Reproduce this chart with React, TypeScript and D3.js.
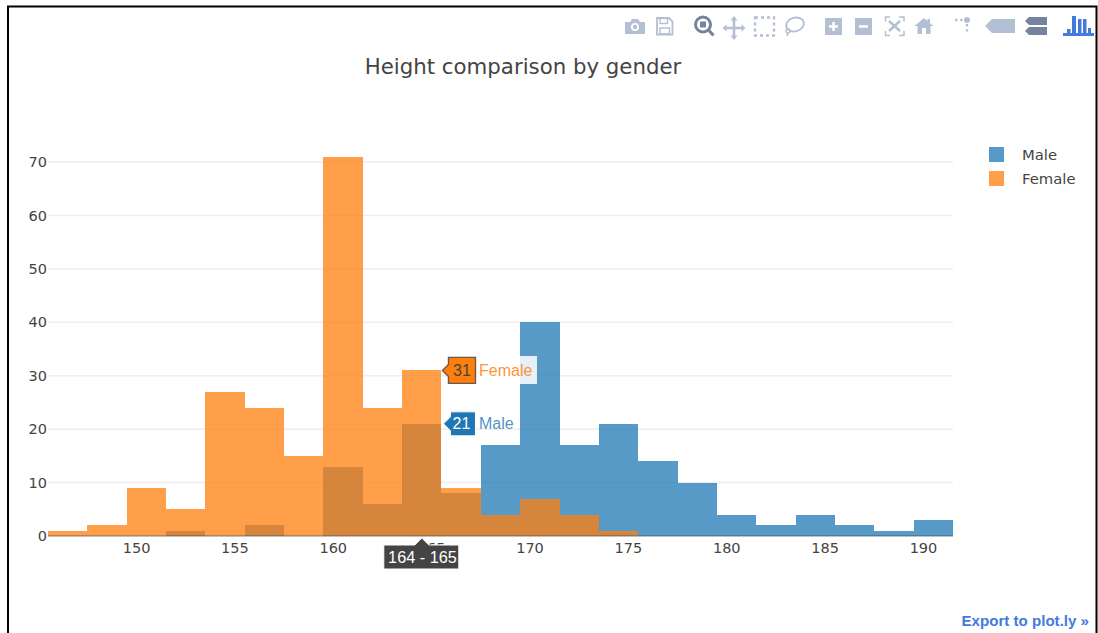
import React from 'react'
import * as d3 from 'd3'

// histogram bins are 2 wide, the first one starts at 145.5
const binStarts = [145.5, 147.5, 149.5, 151.5, 153.5, 155.5, 157.5, 159.5, 161.5, 163.5, 165.5, 167.5, 169.5, 171.5, 173.5, 175.5, 177.5, 179.5, 181.5, 183.5, 185.5, 187.5, 189.5]
const maleCounts = [0, 0, 0, 1, 0, 2, 0, 13, 6, 21, 8, 17, 40, 17, 21, 14, 10, 4, 2, 4, 2, 1, 3]
const femaleCounts = [1, 2, 9, 5, 27, 24, 15, 71, 24, 31, 9, 4, 7, 4, 1, 0, 0, 0, 0, 0, 0, 0, 0]
const xTicks = [150, 155, 160, 165, 170, 175, 180, 185, 190]
const yTicks = [0, 10, 20, 30, 40, 50, 60, 70]
const legendNames = ['Male', 'Female']

const width = 1098
const height = 633
const left = 48
const right = 953
const top = 137
const bottom = 536

const maleColor = '#1f77b4'
const femaleColor = '#ff7f0e'
const textColor = '#444'
const axisFont = '"DejaVu Sans", Verdana, sans-serif'
const hoverFont = '"Liberation Sans", Arial, sans-serif'
const iconColor = '#b3bfd2'
const iconDark = '#76839f'

const x = d3.scaleLinear().domain([145.5, 191.5]).range([left, right])
const y = d3.scaleLinear().domain([0, 74.7]).range([bottom, top])

const Bars = ({ counts, color }: { counts: number[]; color: string }) => (
  <g fill={color} fillOpacity={0.75} shapeRendering="crispEdges">
    {binStarts.map((b, i) => {
      if (counts[i] <= 0) return null
      // rounded so neighbouring bars share an edge with no seam
      const x0 = Math.round(x(b))
      const x1 = Math.round(x(b + 2))
      const y1 = Math.round(y(counts[i]))
      return <rect key={b} x={x0} y={y1} width={x1 - x0} height={bottom - y1} />
    })}
  </g>
)

// toolbar icons, hand placed
const ModeBar = () => (
  <g>
    {/* camera */}
    <path d="M625 22h5l2-3h6l2 3h5v12h-20z" fill={iconColor} />
    <circle cx="635" cy="27" r="4" fill="#fff" />
    <circle cx="635" cy="27" r="2.2" fill={iconColor} />
    {/* save */}
    <path d="M657 18h12l3.500 3.500v13h-15.500z" fill="none" stroke={iconColor} strokeWidth={1.8} />
    <rect x="660" y="18.500" width="7.500" height="5" fill="none" stroke={iconColor} strokeWidth={1.4} />
    <rect x="660" y="28" width="9.500" height="6" fill="none" stroke={iconColor} strokeWidth={1.4} />
    {/* zoom, active */}
    <circle cx="703" cy="24.500" r="7.500" fill="none" stroke={iconDark} strokeWidth={3} />
    <rect x="700" y="21.500" width="6" height="6" fill={iconDark} />
    <path d="M708.500 30l5 5.500" stroke={iconDark} strokeWidth={3.2} />
    {/* pan */}
    <path d="M734 16l3.500 4.500h-2.200v6.200h6.200v-2.200l4 3.500-4 3.500v-2.200h-6.200v6.200h2.200l-3.500 4.500-3.500-4.500h2.200v-6.200h-6.200v2.200l-4-3.500 4-3.500v2.200h6.200v-6.200h-2.200z" fill={iconColor} />
    {/* box select */}
    <rect x="755" y="17.500" width="19" height="18" fill="none" stroke={iconColor} strokeWidth={2.4} strokeDasharray="3 3" />
    {/* lasso */}
    <ellipse cx="795" cy="24.500" rx="9" ry="6.800" fill="none" stroke={iconColor} strokeWidth={1.9} transform="rotate(-15 795 24.500)" />
    <circle cx="788" cy="31" r="2" fill="none" stroke={iconColor} strokeWidth={1.4} />
    <path d="M788 33l-1 3" stroke={iconColor} strokeWidth={1.6} />
    {/* zoom in / out */}
    <rect x="825" y="18" width="17" height="17" fill={iconColor} />
    <path d="M829 26.500h9M833.500 22v9" stroke="#fff" strokeWidth={2.5} />
    <rect x="855" y="18" width="17" height="17" fill={iconColor} />
    <path d="M859 26.500h9" stroke="#fff" strokeWidth={2.5} />
    {/* autoscale */}
    <path d="M890 17h-4.500v4.500M899 17h5v4.500M885.500 31v4.500h4.500M904 31v4.500h-5" fill="none" stroke={iconColor} strokeWidth={1.5} />
    <path d="M889 21l11 10M900 21l-11 10" stroke={iconColor} strokeWidth={2.4} />
    {/* home */}
    <path d="M924 18l3.500 3v-2h2.500v4.200l3.500 2.800h-3v8h-4.500v-6h-4v6h-4.500v-8h-3z" fill={iconColor} />
    {/* spikelines */}
    <circle cx="967" cy="20" r="3" fill={iconColor} />
    <path d="M955 20h9M967 24v9" stroke={iconColor} strokeWidth={2.400} strokeDasharray="2.400 2.800" />
    {/* hover closest */}
    <path d="M985 26l7-7h23v14h-23z" fill={iconColor} />
    {/* hover compare */}
    <path d="M1025 21l4-4h18v8h-18zM1025 31l4-4h18v8h-18z" fill={iconDark} />
    {/* plotly logo */}
    <g fill="#447adb">
      <rect x="1063" y="33" width="31" height="3" />
      <rect x="1067" y="29" width="3.500" height="7" />
      <rect x="1072" y="16" width="4" height="20" />
      <rect x="1078" y="19" width="3.500" height="17" />
      <rect x="1083" y="19" width="3.500" height="17" />
      <rect x="1088" y="28" width="3" height="8" />
    </g>
  </g>
)

export default function App() {
  return (
    <svg
      width={width}
      height={height}
      style={{ position: 'absolute', left: 0, top: 0, background: '#fff' }}
    >
      {/* screenshot frame */}
      <path d="M8 633V6.500H1096.500V633" fill="none" stroke="#000" strokeWidth={2} />

      <ModeBar />

      <text x={523} y={74} textAnchor="middle" fontFamily={axisFont} fontSize={21.3} fill={textColor}>
        Height comparison by gender
      </text>

      {yTicks.slice(1).map((t) => (
        <line key={t} x1={left} x2={right} y1={y(t)} y2={y(t)} stroke="#eee" strokeWidth={1.5} />
      ))}

      <Bars counts={maleCounts} color={maleColor} />
      <Bars counts={femaleCounts} color={femaleColor} />
      <line x1={left} x2={right} y1={y(0)} y2={y(0)} stroke="#444" strokeOpacity={0.45} strokeWidth={1.5} />

      {yTicks.map((t) => (
        <text key={t} x={left - 1} y={y(t) + 5} textAnchor="end" fontFamily={axisFont} fontSize={14.5} fill={textColor}>
          {t}
        </text>
      ))}
      {xTicks.map((t) => (
        <text key={t} x={x(t)} y={553} textAnchor="middle" fontFamily={axisFont} fontSize={14.5} fill={textColor}>
          {t}
        </text>
      ))}

      {/* legend */}
      {legendNames.map((name, i) => (
        <g key={name} transform={`translate(989,${147 + i * 24})`}>
          <rect width={15} height={15} fill={i === 0 ? maleColor : femaleColor} fillOpacity={0.75} />
          <text x={33} y={13} fontFamily={axisFont} fontSize={14.8} fill={textColor}>
            {name}
          </text>
        </g>
      ))}

      {/* hover labels for the 164 - 165 bin */}
      <g fontFamily={hoverFont} fontSize={16}>
        <rect x={476} y={356} width={61} height={28} fill="#fff" fillOpacity={0.85} />
        <path
          d={`M${x(165.5) + 1} ${y(31)}l6-6v-7h27v26h-27v-7z`}
          fill={femaleColor}
          stroke="#6b5a4a"
          strokeWidth={1.4}
        />
        <text x={462} y={y(31) + 5.5} textAnchor="middle" fill={textColor}>31</text>
        <text x={479} y={y(31) + 5.5} fill={femaleColor} fillOpacity={0.85}>Female</text>

        <path
          d={`M${x(165.5) + 2} ${y(21)}l7-7v-5h25v24h-25v-5z`}
          fill={maleColor}
          stroke="#fff"
          strokeWidth={1}
        />
        <text x={461.5} y={y(21) + 5.5} textAnchor="middle" fill="#fff">21</text>
        <text x={479} y={y(21) + 5.5} fill={maleColor} fillOpacity={0.8}>Male</text>

        <path
          d={`M${x(164.5)} ${bottom + 2}l7 7h30v24h-75v-24h31z`}
          fill={textColor}
          stroke="#fff"
          strokeWidth={1}
        />
        <text x={422.5} y={563} textAnchor="middle" fontSize={16.3} fill="#fff">164 - 165</text>
      </g>

      <text x={1089} y={626} textAnchor="end" fontFamily={hoverFont} fontWeight="bold" fontSize={15.1} fill="#447adb">
        Export to plot.ly »
      </text>
    </svg>
  )
}
